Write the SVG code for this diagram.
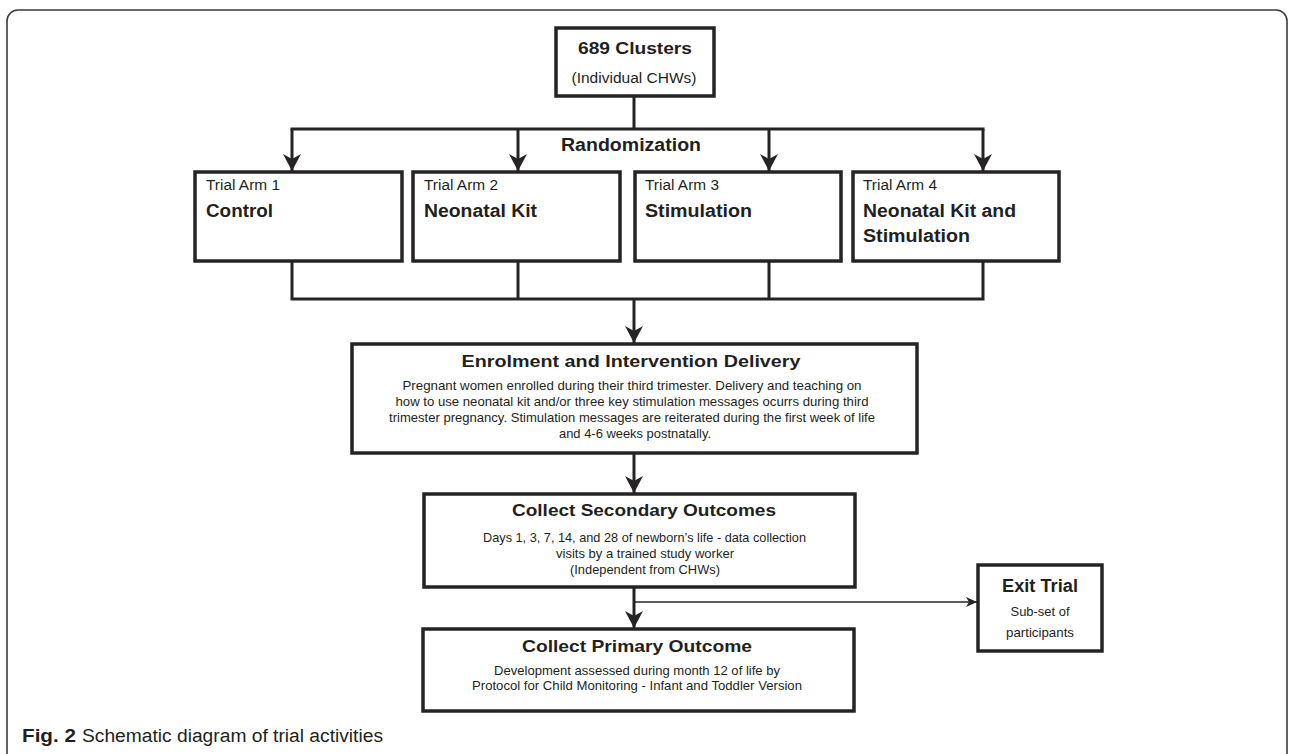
<svg xmlns="http://www.w3.org/2000/svg" width="1292" height="754" viewBox="0 0 1292 754">
<style>
  .frame{fill:none;stroke:#3a3a3a;stroke-width:1.6}
  .box{fill:#fff;stroke:#262324;stroke-width:3.5}
  .ln{fill:none;stroke:#262324;stroke-width:3}
  .thin{fill:none;stroke:#262324;stroke-width:1.5}
  text{font-family:"Liberation Sans",Arial,sans-serif;fill:#231f20}
  .t{font-size:17px;font-weight:bold;text-anchor:middle}
  .b{font-size:13px;text-anchor:middle}
  .arm{font-size:14px}
  .armt{font-size:18px;font-weight:bold}
</style>
<defs>
  <marker id="arr" viewBox="-1 -10 19 20" refX="17" refY="0" markerWidth="19" markerHeight="20" markerUnits="userSpaceOnUse" orient="auto">
    <path d="M0,-9 L17,0 L0,9 L5,0 Z" fill="#262324"/>
  </marker>
  <marker id="arrs" viewBox="-1 -6 12 12" refX="11" refY="0" markerWidth="12" markerHeight="12" markerUnits="userSpaceOnUse" orient="auto">
    <path d="M0,-5 L11,0 L0,5 L3,0 Z" fill="#262324"/>
  </marker>
</defs>
<rect class="frame" x="7" y="10" width="1280" height="770" rx="11"/>

<g id="connectors">
  <path class="ln" d="M634,96 V129 M290.5,129 H984.5"/>
  <path class="ln" d="M292,129 V171" marker-end="url(#arr)"/>
  <path class="ln" d="M518,129 V171" marker-end="url(#arr)"/>
  <path class="ln" d="M769,129 V171" marker-end="url(#arr)"/>
  <path class="ln" d="M983,129 V171" marker-end="url(#arr)"/>
  <path class="ln" d="M292,261 V299 M518,261 V299 M769,261 V299 M983,261 V299 M290.5,299 H984.5"/>
  <path class="ln" d="M634,299 V343" marker-end="url(#arr)"/>
  <path class="ln" d="M634,453 V493" marker-end="url(#arr)"/>
  <path class="ln" d="M634,587 V628" marker-end="url(#arr)"/>
  <path class="thin" d="M634,602 H977" marker-end="url(#arrs)"/>
</g>

<g id="clusters">
  <rect class="box" x="556" y="28" width="158" height="68"/>
  <text class="t" x="635" y="54" textLength="114" lengthAdjust="spacingAndGlyphs">689 Clusters</text>
  <text class="b" x="634" y="83" style="font-size:14px" textLength="125" lengthAdjust="spacingAndGlyphs">(Individual CHWs)</text>
</g>

<g id="randomization">
  <text x="631" y="151" style="font-size:18px;font-weight:bold;text-anchor:middle" textLength="140" lengthAdjust="spacingAndGlyphs">Randomization</text>
</g>

<g id="arm1">
  <rect class="box" x="195" y="172" width="207" height="89"/>
  <text class="arm" x="206" y="190" textLength="74" lengthAdjust="spacingAndGlyphs">Trial Arm 1</text>
  <text class="armt" x="206" y="217" textLength="67" lengthAdjust="spacingAndGlyphs">Control</text>
</g>
<g id="arm2">
  <rect class="box" x="413" y="172" width="207" height="89"/>
  <text class="arm" x="424" y="190" textLength="74" lengthAdjust="spacingAndGlyphs">Trial Arm 2</text>
  <text class="armt" x="424" y="217" textLength="113" lengthAdjust="spacingAndGlyphs">Neonatal Kit</text>
</g>
<g id="arm3">
  <rect class="box" x="635" y="172" width="206" height="89"/>
  <text class="arm" x="645" y="190" textLength="74" lengthAdjust="spacingAndGlyphs">Trial Arm 3</text>
  <text class="armt" x="645" y="217" textLength="107" lengthAdjust="spacingAndGlyphs">Stimulation</text>
</g>
<g id="arm4">
  <rect class="box" x="853" y="172" width="206" height="89"/>
  <text class="arm" x="863" y="190" textLength="74" lengthAdjust="spacingAndGlyphs">Trial Arm 4</text>
  <text class="armt" x="863" y="217" textLength="153" lengthAdjust="spacingAndGlyphs">Neonatal Kit and</text>
  <text class="armt" x="863" y="242" textLength="107" lengthAdjust="spacingAndGlyphs">Stimulation</text>
</g>

<g id="enrolment">
  <rect class="box" x="352" y="344" width="565" height="109"/>
  <text class="t" x="631" y="367" textLength="339" lengthAdjust="spacingAndGlyphs">Enrolment and Intervention Delivery</text>
  <text class="b" x="632" y="390" textLength="459" lengthAdjust="spacingAndGlyphs">Pregnant women enrolled during their third trimester. Delivery and teaching on</text>
  <text class="b" x="632" y="406" textLength="473" lengthAdjust="spacingAndGlyphs">how to use neonatal kit and/or three key stimulation messages ocurrs during third</text>
  <text class="b" x="632" y="422" textLength="486" lengthAdjust="spacingAndGlyphs">trimester pregnancy. Stimulation messages are reiterated during the first week of life</text>
  <text class="b" x="635" y="438" textLength="152" lengthAdjust="spacingAndGlyphs">and 4-6 weeks postnatally.</text>
</g>

<g id="secondary">
  <rect class="box" x="424" y="494" width="431" height="93"/>
  <text class="t" x="644" y="516" textLength="264" lengthAdjust="spacingAndGlyphs">Collect Secondary Outcomes</text>
  <text class="b" x="644.5" y="542" textLength="323" lengthAdjust="spacingAndGlyphs">Days 1, 3, 7, 14, and 28 of newborn’s life - data collection</text>
  <text class="b" x="645" y="558" textLength="178" lengthAdjust="spacingAndGlyphs">visits by a trained study worker</text>
  <text class="b" x="645" y="574" textLength="150" lengthAdjust="spacingAndGlyphs">(Independent from CHWs)</text>
</g>

<g id="exit">
  <rect class="box" x="978" y="565" width="124" height="86"/>
  <text class="t" x="1040" y="592" style="font-size:18px" textLength="76" lengthAdjust="spacingAndGlyphs">Exit Trial</text>
  <text class="b" x="1040" y="616" textLength="59" lengthAdjust="spacingAndGlyphs">Sub-set of</text>
  <text class="b" x="1040" y="637" textLength="68" lengthAdjust="spacingAndGlyphs">participants</text>
</g>

<g id="primary">
  <rect class="box" x="423" y="629" width="431" height="82"/>
  <text class="t" x="637" y="652" textLength="230" lengthAdjust="spacingAndGlyphs">Collect Primary Outcome</text>
  <text class="b" x="637" y="675" textLength="286" lengthAdjust="spacingAndGlyphs">Development assessed during month 12 of life by</text>
  <text class="b" x="637" y="690" textLength="330" lengthAdjust="spacingAndGlyphs">Protocol for Child Monitoring - Infant and Toddler Version</text>
</g>

<g id="caption">
  <text x="22" y="742" style="font-size:18px;font-weight:bold" textLength="54" lengthAdjust="spacingAndGlyphs">Fig. 2</text>
  <text x="82" y="742" style="font-size:18px" textLength="301" lengthAdjust="spacingAndGlyphs">Schematic diagram of trial activities</text>
</g>
</svg>
